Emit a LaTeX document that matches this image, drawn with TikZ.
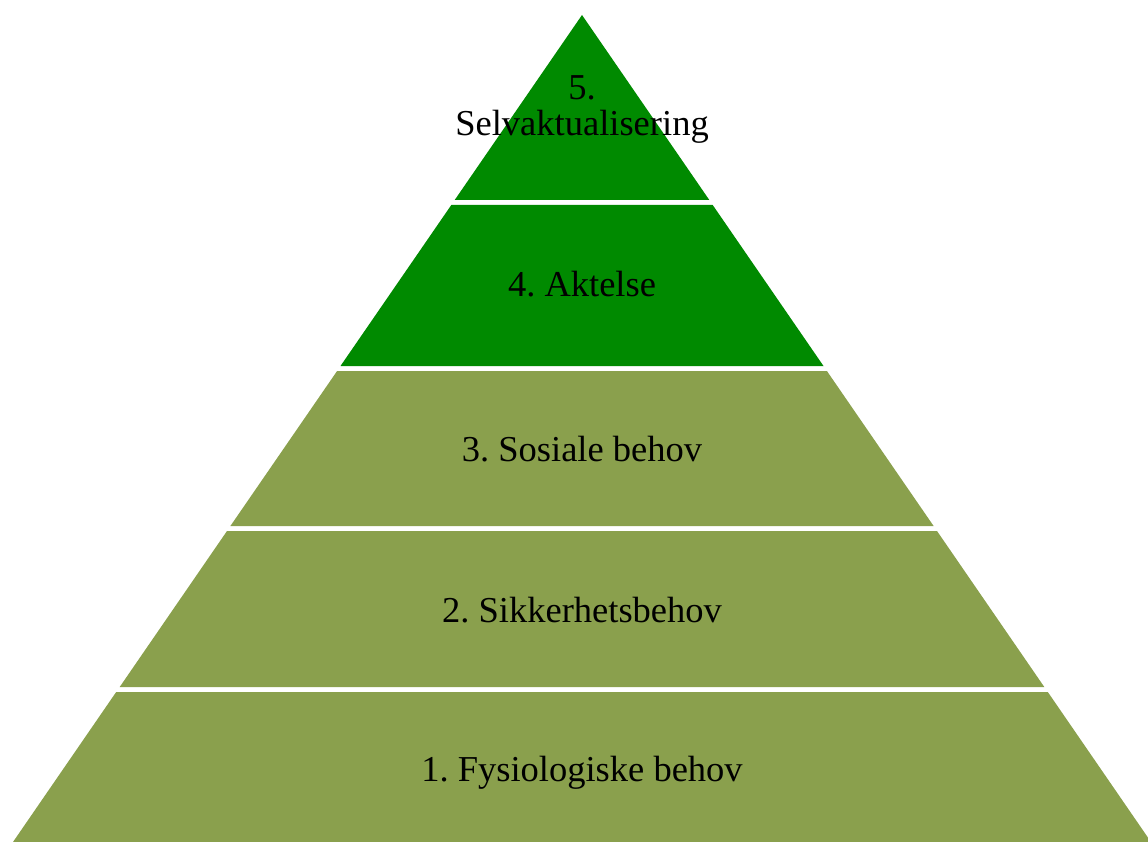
\documentclass[tikz,border=0pt]{standalone}
\usepackage{fontspec}
\setmainfont{Liberation Serif}
\frenchspacing
\definecolor{topgreen}{HTML}{008A00}
\definecolor{olivegreen}{HTML}{8AA04D}
\tikzset{
  label/.style={anchor=base, inner sep=0pt, font=\fontsize{36.5}{40}\selectfont, text=black},
}
\begin{document}
\begin{tikzpicture}[x=1pt,y=-1pt]
\useasboundingbox (0,0) rectangle (1148,842);
\clip (0,0) rectangle (1148,842);
% tiers
\fill[topgreen] (582,15) -- (709.3,200) -- (454.7,200) -- cycle;
\fill[topgreen] (451.3,205) -- (712.7,205) -- (823.5,366) -- (340.5,366) -- cycle;
\fill[olivegreen] (337.1,371) -- (826.9,371) -- (933.6,526) -- (230.4,526) -- cycle;
\fill[olivegreen] (227.0,531) -- (937.0,531) -- (1044.3,687) -- (119.7,687) -- cycle;
\fill[olivegreen] (116.2,692) -- (1047.8,692) -- (1151.0,842) -- (13.0,842) -- cycle;
% labels
\node[label] (t5a) at (582,100) {5.};
\node[label] (t5b) at (582,136) {Selvaktualisering};
\node[label] (t4) at (582,296.7) {4. Aktelse};
\node[label] (t3) at (582,461.7) {3. Sosiale behov};
\node[label] (t2) at (582,622.5) {2. Sikkerhetsbehov};
\node[label] (t1) at (582,781.7) {1. Fysiologiske behov};
\end{tikzpicture}
\end{document}
